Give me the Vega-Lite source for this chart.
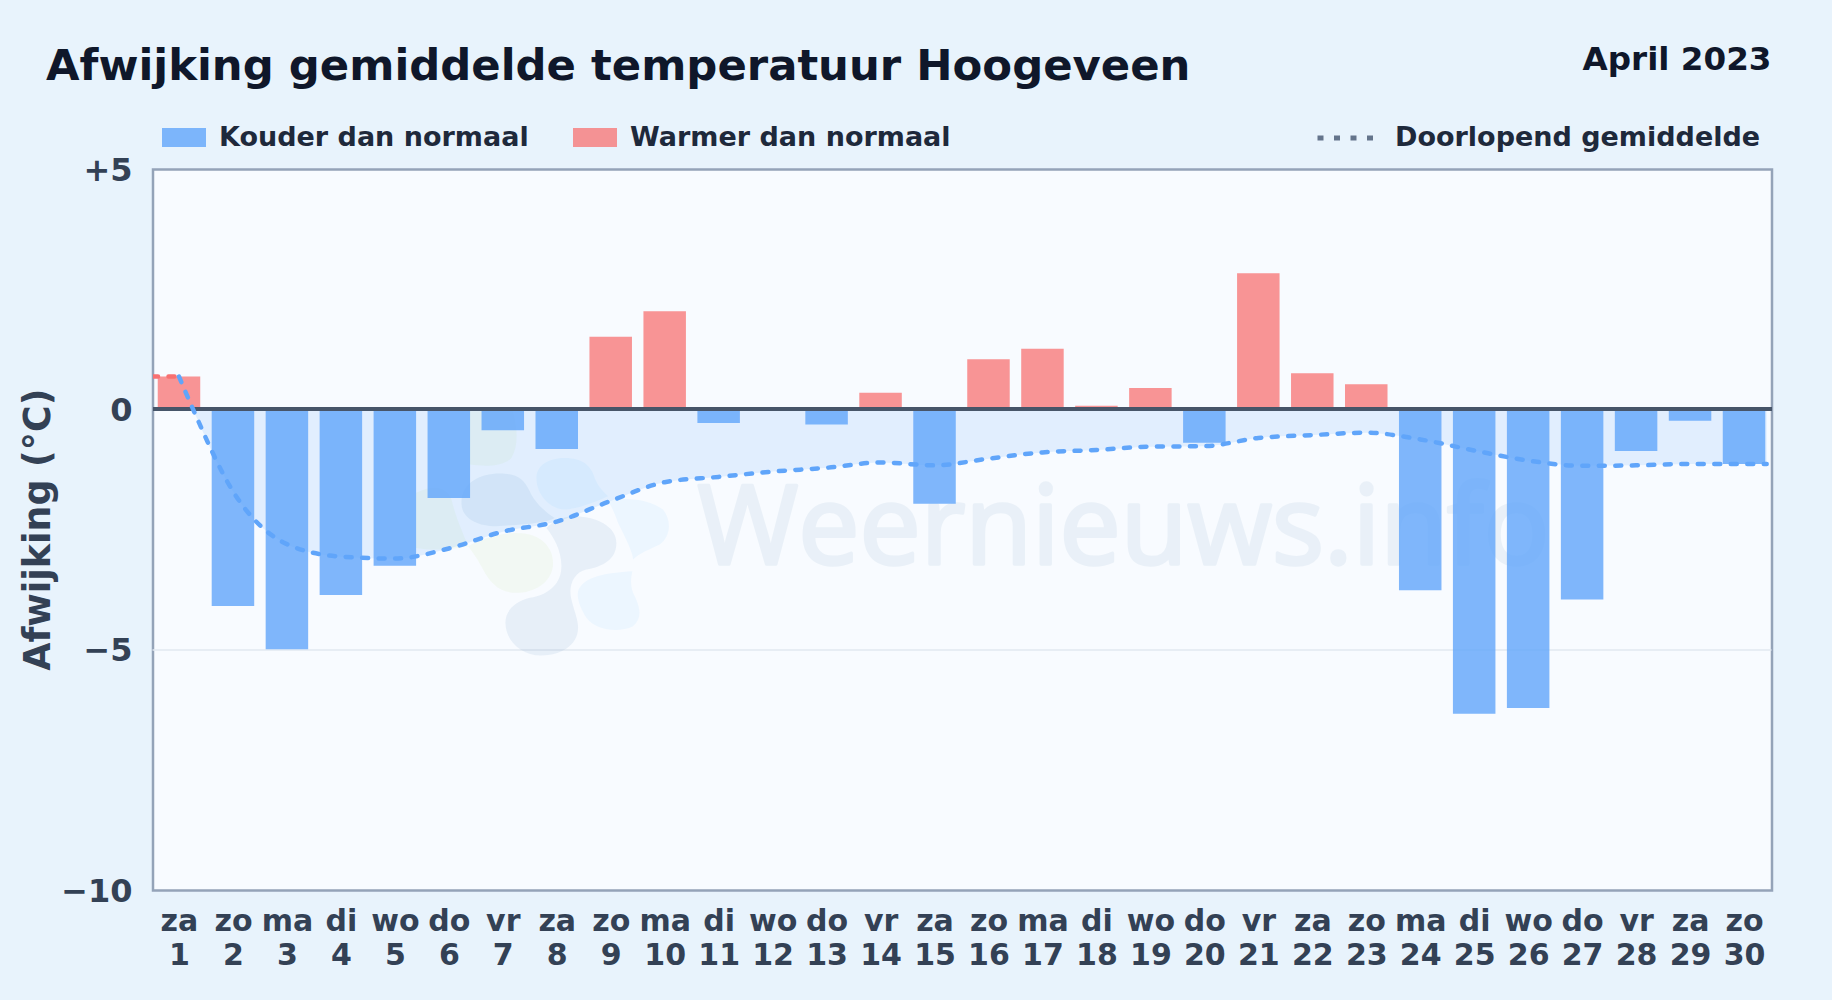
{
"$schema":"https://vega.github.io/schema/vega-lite/v6.json",
"width":1619,"height":721,
"autosize":{"type":"none"},
"padding":{"left":153,"top":169.5,"right":60,"bottom":109.5},
"background":"#e8f3fc",
"config":{"font":"DejaVu Sans","view":{"fill":"#f8fbff","stroke":"#94a3b8","strokeWidth":2.5}},
"title":{"text":"Afwijking gemiddelde temperatuur Hoogeveen","anchor":"start","frame":"group","dx":-107,"offset":-45.5,"fontSize":43.35,"fontWeight":"bold","color":"#0f172a","font":"DejaVu Sans"},
"datasets":{
"days":[
{"day":1,"afwijking":0.68,"soort":"Warmer dan normaal"},{"day":2,"afwijking":-4.1,"soort":"Kouder dan normaal"},{"day":3,"afwijking":-5.0,"soort":"Kouder dan normaal"},{"day":4,"afwijking":-3.87,"soort":"Kouder dan normaal"},{"day":5,"afwijking":-3.26,"soort":"Kouder dan normaal"},{"day":6,"afwijking":-1.85,"soort":"Kouder dan normaal"},{"day":7,"afwijking":-0.44,"soort":"Kouder dan normaal"},{"day":8,"afwijking":-0.83,"soort":"Kouder dan normaal"},{"day":9,"afwijking":1.51,"soort":"Warmer dan normaal"},{"day":10,"afwijking":2.04,"soort":"Warmer dan normaal"},{"day":11,"afwijking":-0.29,"soort":"Kouder dan normaal"},{"day":12,"afwijking":0,"soort":"Kouder dan normaal"},{"day":13,"afwijking":-0.32,"soort":"Kouder dan normaal"},{"day":14,"afwijking":0.34,"soort":"Warmer dan normaal"},{"day":15,"afwijking":-1.97,"soort":"Kouder dan normaal"},{"day":16,"afwijking":1.04,"soort":"Warmer dan normaal"},{"day":17,"afwijking":1.26,"soort":"Warmer dan normaal"},{"day":18,"afwijking":0.07,"soort":"Warmer dan normaal"},{"day":19,"afwijking":0.44,"soort":"Warmer dan normaal"},{"day":20,"afwijking":-0.7,"soort":"Kouder dan normaal"},{"day":21,"afwijking":2.83,"soort":"Warmer dan normaal"},{"day":22,"afwijking":0.75,"soort":"Warmer dan normaal"},{"day":23,"afwijking":0.52,"soort":"Warmer dan normaal"},{"day":24,"afwijking":-3.77,"soort":"Kouder dan normaal"},{"day":25,"afwijking":-6.34,"soort":"Kouder dan normaal"},{"day":26,"afwijking":-6.22,"soort":"Kouder dan normaal"},{"day":27,"afwijking":-3.96,"soort":"Kouder dan normaal"},{"day":28,"afwijking":-0.87,"soort":"Kouder dan normaal"},{"day":29,"afwijking":-0.24,"soort":"Kouder dan normaal"},{"day":30,"afwijking":-1.14,"soort":"Kouder dan normaal"}],
"warmStart":[{"day":0.5,"gem":0.68},{"day":1,"gem":0.68}],
"mean":[
{"day":1,"gem":0.68,"reeks":"Doorlopend gemiddelde"},{"day":1.26,"gem":0,"reeks":"Doorlopend gemiddelde"},{"day":2,"gem":-1.71,"reeks":"Doorlopend gemiddelde"},{"day":3,"gem":-2.81,"reeks":"Doorlopend gemiddelde"},{"day":4,"gem":-3.07,"reeks":"Doorlopend gemiddelde"},{"day":5,"gem":-3.11,"reeks":"Doorlopend gemiddelde"},{"day":6,"gem":-2.9,"reeks":"Doorlopend gemiddelde"},{"day":7,"gem":-2.55,"reeks":"Doorlopend gemiddelde"},{"day":8,"gem":-2.34,"reeks":"Doorlopend gemiddelde"},{"day":9,"gem":-1.91,"reeks":"Doorlopend gemiddelde"},{"day":10,"gem":-1.52,"reeks":"Doorlopend gemiddelde"},{"day":11,"gem":-1.41,"reeks":"Doorlopend gemiddelde"},{"day":12,"gem":-1.3,"reeks":"Doorlopend gemiddelde"},{"day":13,"gem":-1.22,"reeks":"Doorlopend gemiddelde"},{"day":14,"gem":-1.11,"reeks":"Doorlopend gemiddelde"},{"day":15,"gem":-1.17,"reeks":"Doorlopend gemiddelde"},{"day":16,"gem":-1.03,"reeks":"Doorlopend gemiddelde"},{"day":17,"gem":-0.9,"reeks":"Doorlopend gemiddelde"},{"day":18,"gem":-0.85,"reeks":"Doorlopend gemiddelde"},{"day":19,"gem":-0.78,"reeks":"Doorlopend gemiddelde"},{"day":20,"gem":-0.77,"reeks":"Doorlopend gemiddelde"},{"day":21,"gem":-0.6,"reeks":"Doorlopend gemiddelde"},{"day":22,"gem":-0.54,"reeks":"Doorlopend gemiddelde"},{"day":23,"gem":-0.49,"reeks":"Doorlopend gemiddelde"},{"day":24,"gem":-0.63,"reeks":"Doorlopend gemiddelde"},{"day":25,"gem":-0.86,"reeks":"Doorlopend gemiddelde"},{"day":26,"gem":-1.07,"reeks":"Doorlopend gemiddelde"},{"day":27,"gem":-1.18,"reeks":"Doorlopend gemiddelde"},{"day":28,"gem":-1.17,"reeks":"Doorlopend gemiddelde"},{"day":29,"gem":-1.14,"reeks":"Doorlopend gemiddelde"},{"day":30,"gem":-1.14,"reeks":"Doorlopend gemiddelde"},{"day":30.42,"gem":-1.14,"reeks":"Doorlopend gemiddelde"}],
"area":[
{"day":1.26,"gem":0},{"day":2,"gem":-1.71},{"day":3,"gem":-2.81},{"day":4,"gem":-3.07},{"day":5,"gem":-3.11},{"day":6,"gem":-2.9},{"day":7,"gem":-2.55},{"day":8,"gem":-2.34},{"day":9,"gem":-1.91},{"day":10,"gem":-1.52},{"day":11,"gem":-1.41},{"day":12,"gem":-1.3},{"day":13,"gem":-1.22},{"day":14,"gem":-1.11},{"day":15,"gem":-1.17},{"day":16,"gem":-1.03},{"day":17,"gem":-0.9},{"day":18,"gem":-0.85},{"day":19,"gem":-0.78},{"day":20,"gem":-0.77},{"day":21,"gem":-0.6},{"day":22,"gem":-0.54},{"day":23,"gem":-0.49},{"day":24,"gem":-0.63},{"day":25,"gem":-0.86},{"day":26,"gem":-1.07},{"day":27,"gem":-1.18},{"day":28,"gem":-1.17},{"day":29,"gem":-1.14},{"day":30,"gem":-1.14},{"day":30.42,"gem":-1.14}],
"logo":[{"naam":"logo"}],
"watermerk":[{"tekst":"Weernieuws.info"}],
"maand":[{"tekst":"April 2023"}]
},
"encoding":{
"x":{"type":"quantitative","scale":{"domain":[0.5,30.5],"range":[-1,1618],"nice":false,"zero":false,"padding":0},
"axis":{"title":null,"values":[1,2,3,4,5,6,7,8,9,10,11,12,13,14,15,16,17,18,19,20,21,22,23,24,25,26,27,28,29,30],"domain":false,"ticks":false,"grid":false,"labelOverlap":false,"labelBound":false,"labelFlush":false,"labelFontSize":30,"labelFontWeight":"bold","labelColor":"#334155","labelPadding":16,"labelLineHeight":33.5,"labelExpr":"[['za','zo','ma','di','wo','do','vr'][(datum.value-1)%7], ''+datum.value]"}},
"y":{"type":"quantitative","scale":{"domain":[-10,5],"range":[720,-0.5],"nice":false,"zero":false,"padding":0},
"axis":{"title":"Afwijking (°C)","titleFontSize":36.4,"titleFontWeight":"bold","titleColor":"#334155","titlePadding":3,"values":[5,0,-5,-10],"domain":false,"ticks":false,"grid":true,"gridColor":{"condition":{"test":"datum.value === -5","value":"#e2e8f0"},"value":"transparent"},"gridWidth":1.5,"labelFontSize":32,"labelFontWeight":"bold","labelColor":"#334155","labelPadding":21,"labelOffset":1.5,"labelExpr":"datum.value === 0 ? '0' : format(datum.value, '+d')"}}
},
"layer":[
{"data":{"name":"logo"},"mark":{"type":"point","filled":true,"size":0.444,"fill":"#b5d56a","opacity":0.08,"clip":false,"shape":"M-210,-365 L-80,-365 C-70,-320 -60,-270 -85,-225 C-110,-200 -160,-198 -210,-205 Z M-372,-120 C-320,-145 -280,-140 -265,-100 C-250,-40 -230,0 -215,40 C-280,55 -340,50 -372,45 Z M-215,40 C-160,10 -100,0 -70,0 C0,0 40,40 40,90 C40,150 -20,180 -70,180 C-120,180 -150,150 -170,110 C-185,80 -200,60 -215,40 Z"},
"encoding":{"x":{"datum":7.685},"y":{"datum":-2.576}}},
{"data":{"name":"logo"},"mark":{"type":"point","filled":true,"size":0.444,"fill":"#5b8db8","opacity":0.1,"shape":"M100,-50 C170,-50 230,-20 230,30 C230,80 190,100 140,110 C100,120 85,160 95,200 C105,240 115,260 115,285 C115,340 60,368 5,368 C-60,368 -103,320 -103,270 C-103,230 -70,205 -30,195 C30,185 65,150 65,100 C65,50 40,10 20,-15 C40,-35 70,-50 100,-50 Z M-235,-90 C-235,-150 -180,-178 -120,-178 C-70,-178 -50,-165 -30,-125 C-15,-90 20,-60 45,-45 C20,-30 -50,-25 -130,-20 C-190,-20 -235,-45 -235,-90 Z"},
"encoding":{"x":{"datum":7.685},"y":{"datum":-2.576}}},
{"data":{"name":"logo"},"mark":{"type":"point","filled":true,"size":0.444,"fill":"#38a8f8","opacity":0.06,"shape":"M-10,-165 C-10,-205 30,-225 75,-225 C130,-225 155,-200 165,-165 C175,-140 190,-125 205,-110 C160,-90 120,-75 80,-70 C30,-70 -10,-115 -10,-165 Z M205,-95 C260,-110 330,-100 370,-70 C395,-40 395,10 360,35 C330,50 300,60 280,80 C280,60 260,20 235,-30 C225,-60 215,-80 205,-95 Z M115,175 C130,130 200,120 278,115 C270,150 275,170 285,190 C305,230 305,260 280,280 C240,300 170,295 140,255 C125,230 110,200 115,175 Z"},
"encoding":{"x":{"datum":7.685},"y":{"datum":-2.576}}},
{"data":{"name":"watermerk"},"mark":{"type":"text","fontSize":109,"fontWeight":"normal","font":"Open Sans","fill":"#5b8db8","stroke":"#5b8db8","strokeWidth":3.5,"strokeJoin":"round","opacity":0.09,"align":"center","baseline":"alphabetic"},
"encoding":{"x":{"datum":18.5},"y":{"datum":-3.214},"text":{"field":"tekst"}}},
{"data":{"name":"area"},"mark":{"type":"area","interpolate":"monotone","fill":"#60a5fa","opacity":0.15,"clip":true},
"encoding":{"x":{"field":"day"},"y":{"field":"gem"},"y2":{"datum":0}}},
{"data":{"name":"days"},"mark":{"type":"bar","orient":"vertical","width":42.5},
"encoding":{
"x":{"field":"day"},
"y":{"field":"afwijking","stack":null},
"y2":{"datum":0},"fill":{"field":"soort","type":"nominal","scale":{"domain":["Kouder dan normaal","Warmer dan normaal"],"range":["rgba(96,165,250,0.8)","rgba(248,113,113,0.75)"]},
"legend":{"title":null,"orient":"none","legendX":9,"legendY":-54,"direction":"horizontal","symbolType":"M-1,-0.43H1V0.43H-1Z","symbolSize":1936,"symbolStrokeWidth":0,"labelFontSize":27,"labelFontWeight":"bold","labelColor":"#1e293b","labelLimit":500,"labelOffset":13,"columnPadding":44}}}},
{"data":{"name":"days"},"mark":{"type":"rule","stroke":"#475569","strokeWidth":3.5},"encoding":{"x":{"value":0},"x2":{"value":1619},"y":{"datum":0}}},
{"data":{"name":"warmStart"},"mark":{"type":"line","stroke":"#f87171","strokeWidth":4.5,"strokeDash":[6,10.5],"strokeCap":"round","clip":true},"encoding":{"x":{"field":"day"},"y":{"field":"gem"}}},
{"data":{"name":"mean"},"mark":{"type":"line","interpolate":"monotone","stroke":"#60a5fa","strokeWidth":4.5,"strokeCap":"round","clip":true},
"encoding":{"x":{"field":"day"},"y":{"field":"gem"},"strokeDash":{"field":"reeks","type":"nominal","scale":{"range":[[6,10.5]]},
"legend":{"title":null,"orient":"none","legendX":1162,"legendY":-62,"symbolType":"stroke","symbolSize":3136,"symbolStrokeColor":"#64748b","symbolStrokeWidth":5,"labelFontSize":27,"labelFontWeight":"bold","labelColor":"#1e293b","labelLimit":500,"labelOffset":19,"encoding":{"symbols":{"update":{"strokeDash":{"value":[5,11]}}}}}}}},
{"data":{"name":"maand"},"mark":{"type":"text","fontSize":32.6,"fontWeight":"bold","fill":"#0f172a","align":"right","baseline":"alphabetic","dx":0.5,"dy":-99,"clip":false},
"encoding":{"x":{"datum":30.5},"y":{"datum":5},"text":{"field":"tekst"}}}
]
}
